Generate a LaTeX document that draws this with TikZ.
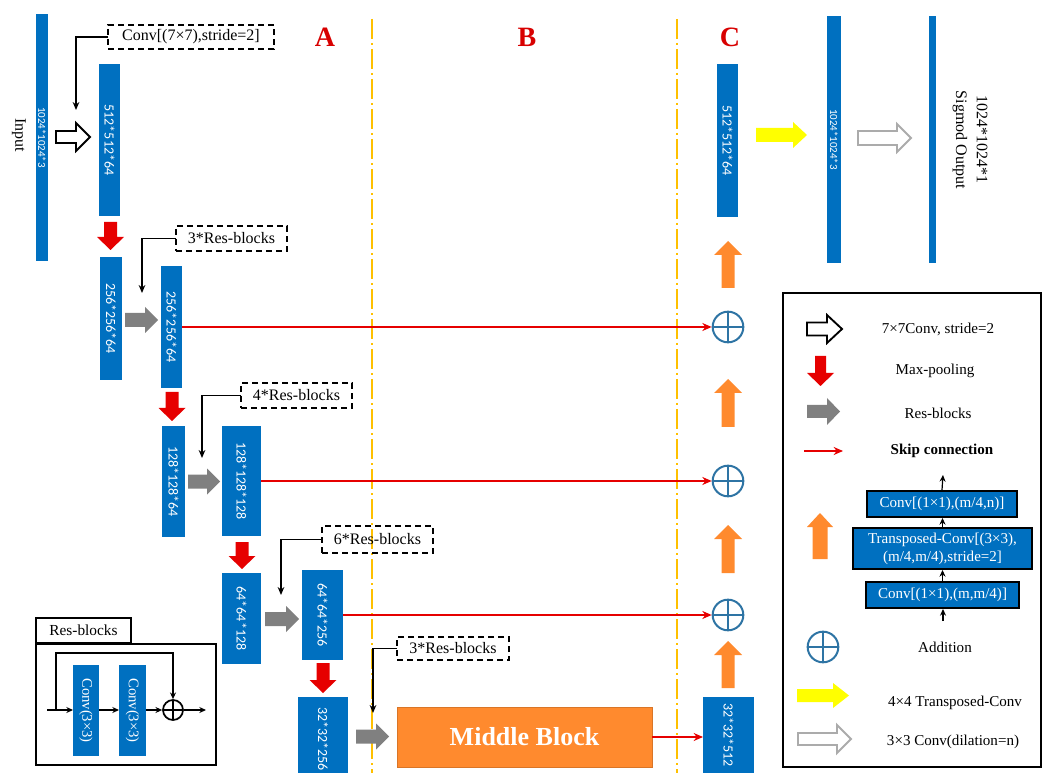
\documentclass[tikz,border=0pt]{standalone}
\usepackage{fontspec}
\setmainfont{Liberation Serif}
\newfontfamily\carl{Carlito}
\usetikzlibrary{arrows.meta}
\definecolor{bblue}{HTML}{0070C0}
\definecolor{mred}{HTML}{E60000}
\definecolor{lred}{HTML}{D80000}
\definecolor{agray}{HTML}{808080}
\definecolor{aorange}{HTML}{FF8A2E}
\definecolor{addblue}{HTML}{2E74A4}
\definecolor{amber}{HTML}{FFC000}
\definecolor{hgray}{HTML}{ABABAB}
\definecolor{ayellow}{HTML}{FFFF00}
\tikzset{
  bar/.style={fill=bblue, draw=none, inner sep=0pt, outer sep=0pt},
  bartxt/.style={text=white, font=\carl\fontsize{10.5}{12}\selectfont, inner sep=0pt},
  smalltxt/.style={text=white, font=\carl\fontsize{8.2}{10}\selectfont, inner sep=0pt},
  dbox/.style={draw, line width=1.1pt, dash pattern=on 4.5pt off 3pt, inner sep=0pt, outer sep=0pt, font=\fontsize{12}{14}\selectfont},
  conn/.style={draw, line width=0.9pt, -{Stealth[length=6pt,width=5pt]}},
  skip/.style={color=mred, draw=mred, line width=1.5pt, -{Stealth[length=7pt,width=6pt]}},
  addc/.style={circle, draw=addblue, line width=1.5pt, minimum size=23pt, inner sep=0pt,
    path picture={\draw[addblue, line width=1.5pt] (path picture bounding box.north) -- (path picture bounding box.south) (path picture bounding box.west) -- (path picture bounding box.east);}},
  hollowA/.style={draw=black, fill=white, line width=1.4pt},
  hgrayA/.style={draw=hgray, fill=white, line width=1.4pt},
  redA/.style={fill=mred, draw=none},
  grayA/.style={fill=agray, draw=none},
  orA/.style={fill=aorange, draw=none},
  yelA/.style={fill=ayellow, draw=none},
  ddl/.style={draw=amber, line width=1.1pt, dash pattern=on 15pt off 3pt on 1.5pt off 3pt},
  sect/.style={text=lred, font=\bfseries\fontsize{21}{24}\selectfont},
  legtxt/.style={font=\fontsize{11.3}{13}\selectfont, inner sep=0pt},
  stackbox/.style={fill=bblue, draw=black, line width=1.5pt, text=white, align=center, inner sep=0pt, font=\fontsize{11.3}{13.5}\selectfont},
  sarr/.style={draw, line width=0.9pt, -{Stealth[length=5pt,width=4.5pt]}},
  sbox/.style={draw, line width=1.5pt, inner sep=0pt, outer sep=0pt},
}
% block arrows
\newcommand{\rarr}[7]{\path[#1] (#2,{#4-#5}) -- ({#3-#7},{#4-#5}) -- ({#3-#7},{#4-#6}) -- (#3,#4) -- ({#3-#7},{#4+#6}) -- ({#3-#7},{#4+#5}) -- (#2,{#4+#5}) -- cycle;}
\newcommand{\darr}[7]{\path[#1] ({#2-#5},#3) -- ({#2+#5},#3) -- ({#2+#5},{#4-#7}) -- ({#2+#6},{#4-#7}) -- (#2,#4) -- ({#2-#6},{#4-#7}) -- ({#2-#5},{#4-#7}) -- cycle;}
\newcommand{\uarr}[7]{\path[#1] ({#2-#5},#4) -- ({#2+#5},#4) -- ({#2+#5},{#3+#7}) -- ({#2+#6},{#3+#7}) -- (#2,#3) -- ({#2-#6},{#3+#7}) -- ({#2-#5},{#3+#7}) -- cycle;}
% bars: name, x1, y1, x2, y2, text, text style
\newcommand{\blk}[7]{%
  \node[bar, minimum width={(#4-#2)*0.75pt}, minimum height={(#5-#3)*0.75pt}] (#1) at ({(#2+#4)/2},{(#3+#5)/2}) {};
  \node[#7, rotate=-90] at (#1.center) {#6};}
% dashed boxes: name, x1, y1, x2, y2, text
\newcommand{\dbx}[6]{%
  \node[dbox, minimum width={(#4-#2)*0.75pt}, minimum height={(#5-#3)*0.75pt}] (#1) at ({(#2+#4)/2},{(#3+#5)/2}) {#6};}
\begin{document}
\begin{tikzpicture}[x=0.75pt,y=-0.75pt]
\useasboundingbox (0,0) rectangle (1046,773);
\begin{scope}
\clip (0,0) rectangle (1046,773);
% section dividers
\draw[ddl] (372,19) -- (372,780);
\draw[ddl] (677,19) -- (677,780);
\node[sect] (secA) at (325,37) {A};
\node[sect] (secB) at (527,37) {B};
\node[sect] (secC) at (730,37) {C};

% input
\node[rotate=-90, font=\fontsize{12}{14}\selectfont] (inlbl) at (19,135) {Input};
\blk{in}{36}{14}{48}{261}{1024*1024*3}{smalltxt}
\rarr{hollowA}{56}{90}{137}{6}{14}{14}
\blk{b1}{99}{64}{120}{216}{512*512*64}{bartxt}
\dbx{d1}{108}{25}{274}{49}{Conv[(7\texttimes7),stride=2]}
\coordinate (d1e) at (76,110);
\draw[conn] (d1.west) -| (d1e);

\darr{redA}{110.5}{222}{250}{6.5}{13.5}{13}
\blk{b2a}{100}{257}{122}{380}{256*256*64}{bartxt}
\rarr{grayA}{125}{158}{320}{7}{13}{13}
\blk{b2b}{161}{266}{182}{388}{256*256*64}{bartxt}
\dbx{d2}{176}{226}{287}{251}{3*Res-blocks}
\coordinate (d2e) at (142,293);
\draw[conn] (d2.west) -| (d2e);

\darr{redA}{172}{392}{421}{6.5}{13.5}{13}
\blk{b3a}{162}{426}{185}{537}{128*128*64}{bartxt}
\rarr{grayA}{188}{220}{481.5}{7}{13}{13}
\blk{b3b}{222}{426}{261}{536}{128*128*128}{bartxt}
\dbx{d3}{241}{383}{352}{408}{4*Res-blocks}
\coordinate (d3e) at (202,458);
\draw[conn] (d3.west) -| (d3e);

\darr{redA}{242}{542}{569}{6.5}{13.5}{13}
\blk{b4a}{222}{573}{261}{664}{64*64*128}{bartxt}
\rarr{grayA}{265}{299}{619}{7}{13}{13}
\blk{b4b}{302}{570}{343}{660}{64*64*256}{bartxt}
\dbx{d4}{322}{526}{433}{553}{6*Res-blocks}
\coordinate (d4e) at (281,595);
\draw[conn] (d4.west) -| (d4e);

\darr{redA}{323}{663}{693}{6.5}{13.5}{13}
\node[bar, minimum width={50*0.75pt}, minimum height={90*0.75pt}, anchor=north] (b5a) at (323,697) {};
\node[bartxt, rotate=-90] at (323,739) {32*32*256};
\rarr{grayA}{356}{389}{736.5}{7}{13}{13}
\dbx{d5}{397}{637}{509}{660}{3*Res-blocks}
\coordinate (d5e) at (373,713);
\draw[conn] (d5.west) -| (d5e);

% middle block
\node[fill=aorange, draw=aorange!85!black, line width=0.4pt, minimum width={255*0.75pt}, minimum height={60*0.75pt}, inner sep=0pt, text=white, font=\bfseries\fontsize{19.5}{22}\selectfont] (mid) at (524.5,737) {Middle Block};

% decoder column C
\node[bar, minimum width={51*0.75pt}, minimum height={90*0.75pt}, anchor=north] (b5c) at (728.5,697) {};
\node[bartxt, rotate=-90] at (728.5,735) {32*32*512};
\draw[skip] (mid.east) -- (mid.east -| b5c.west);

\node[addc] (add1) at (728,327) {};
\node[addc] (add2) at (728,481) {};
\node[addc] (add3) at (728,615) {};
\draw[skip] (b2b.east) -- (b2b.east -| add1.west);
\draw[skip] (b3b.east) -- (b3b.east -| add2.west);
\draw[skip] (b4b.east) -- (b4b.east -| add3.west);

\uarr{orA}{728}{241}{288}{6.5}{14}{14}
\uarr{orA}{728}{379}{427}{6.5}{14}{14}
\uarr{orA}{728}{525}{573}{6.5}{14}{14}
\uarr{orA}{728}{641}{688}{6.5}{14}{14}

\blk{c1}{717}{64}{738}{217}{512*512*64}{bartxt}
\rarr{yelA}{756}{807}{135}{7}{13}{14}
\blk{c2}{827}{16}{841}{263}{1024*1024*3}{smalltxt}
\rarr{hgrayA}{858}{911}{138}{7}{14}{14}
\node[bar, minimum width={7*0.75pt}, minimum height={247*0.75pt}] (c3) at (932.5,139.5) {};
\node[rotate=-90, align=center, font=\fontsize{12}{15.5}\selectfont] (outlbl) at (970,140) {1024*1024*1\\Sigmod Output};

% Res-blocks inset
\node[sbox, minimum width={95*0.75pt}, minimum height={25*0.75pt}, font=\fontsize{11.5}{13}\selectfont] (rlbl) at (83.5,630.5) {Res-blocks};
\node[sbox, minimum width={180*0.75pt}, minimum height={121*0.75pt}] (rbox) at (126,704.5) {};
\blk{rc1}{73}{665}{99}{756}{Conv(3\texttimes3)}{text=white, font=\fontsize{11}{13}\selectfont, inner sep=0pt}
\blk{rc2}{119}{665}{146}{756}{Conv(3\texttimes3)}{text=white, font=\fontsize{11}{13}\selectfont, inner sep=0pt}
\node[circle, draw, line width=1.3pt, minimum size=15pt, inner sep=0pt,
  path picture={\draw[line width=1.3pt] (path picture bounding box.north) -- (path picture bounding box.south) (path picture bounding box.west) -- (path picture bounding box.east);}] (rsum) at (173,710) {};
\coordinate (rin) at (47,710);
\coordinate (rsplit) at (56,710);
\coordinate (rout) at (206,710);
\draw[sarr] (rin) -- (rin -| rc1.west);
\draw[sarr] (rc1.east |- rin) -- (rc2.west |- rin);
\draw[sarr] (rc2.east |- rin) -- (rsum.west);
\draw[sarr] (rsum.east) -- (rout);
\draw[sarr] (rsplit) -- (56,653) -- (173,653) -- (rsum.north);

% legend
\node[sbox, minimum width={258*0.75pt}, minimum height={474*0.75pt}] (leg) at (912,530) {};
\rarr{hollowA}{807}{842}{329}{6.5}{14}{15}
\node[legtxt] (l1) at (938,329) {7\texttimes7Conv, stride=2};
\darr{redA}{820.5}{356}{386}{5.5}{13.5}{13}
\node[legtxt] (l2) at (935,371) {Max-pooling};
\rarr{grayA}{807}{840}{411.5}{6.5}{13.5}{13}
\node[legtxt] (l3) at (938,413) {Res-blocks};
\coordinate (lsk1) at (804,451);
\coordinate (lsk2) at (843,451);
\draw[skip] (lsk1) -- (lsk2);
\node[legtxt, font=\bfseries\fontsize{11.3}{13}\selectfont] (l4) at (942,451) {Skip connection};

\uarr{orA}{820}{513}{559}{7.5}{13}{14}
\node[stackbox, minimum width={150*0.75pt}, minimum height={26*0.75pt}] (s1) at (942,504) {Conv[(1\texttimes1),(m/4,n)]};
\node[stackbox, minimum width={179*0.75pt}, minimum height={41*0.75pt}] (s2) at (942.5,548.5) {Transposed-Conv[(3\texttimes3),\\(m/4,m/4),stride=2]};
\node[stackbox, minimum width={153*0.75pt}, minimum height={26*0.75pt}] (s3) at (942.5,595) {Conv[(1\texttimes1),(m,m/4)]};
\coordinate (stop) at (943,475);
\coordinate (sbot) at (943,621);
\draw[sarr] (sbot) -- (sbot |- s3.south);
\draw[sarr] (s3.north) -- (s3.north |- s2.south);
\draw[sarr] (s2.north) -- (s2.north |- s1.south);
\draw[sarr] (s1.north) -- (stop);

\node[addc] (ladd) at (823,647) {};
\node[legtxt] (l5) at (945,647) {Addition};
\rarr{yelA}{797}{849}{695.5}{6.5}{12.5}{16}
\node[legtxt] (l6) at (955,703) {4\texttimes4 Transposed-Conv};
\rarr{hgrayA}{798}{851}{739}{6}{14}{14}
\node[legtxt] (l7) at (953,742) {3\texttimes3 Conv(dilation=n)};
\end{scope}
\end{tikzpicture}
\end{document}
